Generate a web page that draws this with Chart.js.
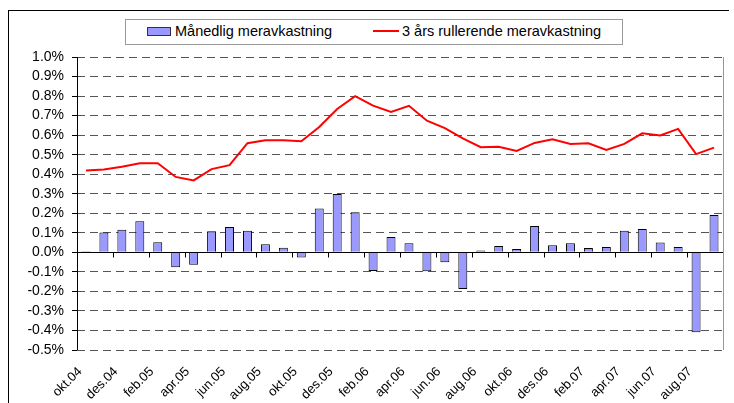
<!DOCTYPE html>
<html>
<head>
<meta charset="utf-8">
<script src="https://cdn.jsdelivr.net/npm/chart.js@4.4.0/dist/chart.umd.min.js"></script>
<style>
  body { margin: 0; background: #fff; font-family: 'Liberation Sans', Arial, sans-serif; }
  #wrap { position: relative; width: 734px; height: 403px; overflow: hidden; }
  #frame { position: absolute; left: 8px; top: 10px; width: 720px; height: 400px; border-top: 1px solid #000; border-left: 1px solid #000; }
  #legend { position: absolute; left: 125px; top: 19px; width: 496px; height: 24px; border: 1px solid #999; background: #fff; font-size: 14.5px; color: #000; }
  #legend span { position: absolute; }
  .sw-bar { left: 21px; top: 7px; width: 22px; height: 7px; background: #9999ff; border: 1px solid #333; }
  .sw-line { left: 247px; top: 10px; width: 26px; height: 2px; background: #ff0000; }
  .lbl1 { left: 49px; top: 3px; }
  .lbl2 { left: 276px; top: 3px; }
  canvas { position: absolute; left: 0; top: 0; }
</style>
</head>
<body>
<div id="wrap">
  <div id="frame"></div>
  <canvas id="chart" width="734" height="403"></canvas>
  <div id="legend">
    <span class="sw-bar"></span><span class="lbl1">Månedlig meravkastning</span>
    <span class="sw-line"></span><span class="lbl2">3 års rullerende meravkastning</span>
  </div>
</div>
<script>
    var months = ['okt.04','nov.04','des.04','jan.05','feb.05','mar.05','apr.05','mai.05','jun.05','jul.05','aug.05','sep.05',
                  'okt.05','nov.05','des.05','jan.06','feb.06','mar.06','apr.06','mai.06','jun.06','jul.06','aug.06','sep.06',
                  'okt.06','nov.06','des.06','jan.07','feb.07','mar.07','apr.07','mai.07','jun.07','jul.07','aug.07','sep.07'];

    // monthly excess return, %
    var monthly = [0.005, 0.101, 0.116, 0.159, 0.051, -0.077, -0.063, 0.108, 0.130, 0.111, 0.041, 0.024,
                   -0.026, 0.224, 0.299, 0.205, -0.096, 0.079, 0.046, -0.097, -0.051, -0.188, 0.009, 0.032,
                   0.017, 0.135, 0.036, 0.046, 0.022, 0.027, 0.111, 0.120, 0.050, 0.027, -0.409, 0.191];

    // 3 year rolling excess return, %
    var rolling = [0.419, 0.424, 0.438, 0.456, 0.456, 0.386, 0.368, 0.426, 0.446, 0.559, 0.574, 0.574,
                   0.569, 0.642, 0.734, 0.800, 0.751, 0.719, 0.750, 0.674, 0.636, 0.583, 0.538, 0.541,
                   0.519, 0.560, 0.579, 0.555, 0.558, 0.524, 0.555, 0.609, 0.598, 0.632, 0.503, 0.536];

    var seriesNames = ['Månedlig meravkastning', '3 års rullerende meravkastning'];
    var yMin = -0.5, yMax = 1.0, yStep = 0.1;

    // zero axis, y axis line, plot border and category tick marks
    var axisLines = {
      id: 'axisLines',
      afterDatasetsDraw: function(chart) {
        var ctx = chart.ctx;
        var a = chart.chartArea;
        var y0 = Math.round(chart.scales.y.getPixelForValue(0)) + 0.5;
        var step = (a.right - a.left) / months.length;
        ctx.save();
        ctx.lineWidth = 1;
        ctx.strokeStyle = '#999';
        ctx.beginPath();
        ctx.moveTo(Math.round(a.right) + 0.5, a.top);
        ctx.lineTo(Math.round(a.right) + 0.5, a.bottom);
        ctx.stroke();
        ctx.strokeStyle = '#000';
        ctx.beginPath();
        ctx.moveTo(a.left, y0);
        ctx.lineTo(a.right, y0);
        ctx.moveTo(Math.round(a.left) + 0.5, a.top);
        ctx.lineTo(Math.round(a.left) + 0.5, a.bottom);
        for (var k = 2; k < months.length; k += 2) {
          var x = Math.round(a.left + k * step) + 0.5;
          ctx.moveTo(x, y0);
          ctx.lineTo(x, y0 + 5);
        }
        ctx.stroke();
        ctx.restore();
      }
    };

    var ctx = document.getElementById('chart').getContext('2d');
    var chartObj = new Chart(ctx, {
      type: 'bar',
      data: {
        labels: months,
        datasets: [{
          type: 'line',
          label: seriesNames[1],
          data: rolling,
          borderColor: '#ff0000',
          borderWidth: 2,
          pointRadius: 0,
          tension: 0,
          fill: false,
          order: 1
        }, {
          type: 'bar',
          label: seriesNames[0],
          data: monthly,
          backgroundColor: '#9999ff',
          borderColor: '#000',
          borderWidth: 1,
          barPercentage: 0.5,
          categoryPercentage: 1.0,
          order: 2
        }]
      },
      options: {
        responsive: false,
        animation: false,
        layout: { padding: { left: 10, top: 57, right: 11, bottom: 0 } },
        plugins: {
          legend: { display: false },
          tooltip: { enabled: false }
        },
        scales: {
          x: {
            grid: { display: false },
            border: { display: false },
            afterFit: function(scale) { scale.height = 53; },
            ticks: {
              autoSkip: false,
              minRotation: 45,
              maxRotation: 45,
              padding: 6,
              labelOffset: -6,
              color: '#000',
              font: { family: "'Liberation Sans', Arial, sans-serif", size: 13 },
              callback: function(v, i) { return i % 2 === 0 ? months[i] : ''; }
            }
          },
          y: {
            min: yMin,
            max: yMax,
            afterFit: function(scale) { scale.width = 67; },
            grid: {
              color: '#555',
              lineWidth: 1,
              tickLength: 5,
              tickColor: '#000',
              tickBorderDash: []
            },
            border: { display: false, dash: [8, 5] },
            ticks: {
              autoSkip: false,
              stepSize: yStep,
              padding: 8,
              color: '#000',
              font: { family: "'Liberation Sans', Arial, sans-serif", size: 14 },
              callback: function(v) { return (Math.round(v * 10) / 10).toFixed(1) + '%'; }
            }
          }
        }
      },
      plugins: [axisLines]
    });
</script>
</body>
</html>
